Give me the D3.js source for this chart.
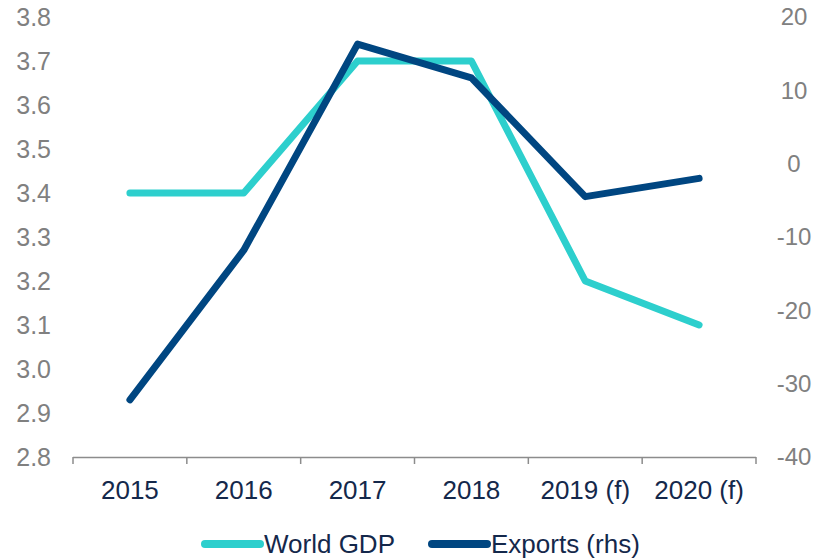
<!DOCTYPE html>
<html>
<head>
<meta charset="utf-8">
<script src="https://cdn.jsdelivr.net/npm/d3@7"></script>
<style>
  html, body { margin: 0; padding: 0; background: #fff; }
  svg { display: block; font-family: "Liberation Sans", Arial, sans-serif; }
</style>
</head>
<body>
<svg id="chart" width="815" height="558"></svg>
<script>
const categories = ["2015", "2016", "2017", "2018", "2019 (f)", "2020 (f)"];
const worldGDP = [3.4, 3.4, 3.7, 3.7, 3.2, 3.1];
const exportsRhs = [-32.2, -11.8, 16.3, 11.7, -4.5, -2.0];
const leftTicks = [2.8, 2.9, 3.0, 3.1, 3.2, 3.3, 3.4, 3.5, 3.6, 3.7, 3.8];
const rightTicks = [-40, -30, -20, -10, 0, 10, 20];
const seriesNames = ["World GDP", "Exports (rhs)"];

const colors = { gdp: "#2dcfcd", exp: "#004681", axisText: "#808080", catText: "#14284b", axis: "#8c8c8c" };

const svg = d3.select("#chart");
const plot = { left: 73, right: 756, top: 17, bottom: 457 };

const x = d3.scaleBand().domain(categories).range([plot.left, plot.right]).paddingInner(0).paddingOuter(0);
const cx = c => x(c) + x.bandwidth() / 2;
const yL = d3.scaleLinear().domain([2.8, 3.8]).range([plot.bottom, plot.top]);
const yR = d3.scaleLinear().domain([-40, 20]).range([plot.bottom, plot.top]);

// Left axis labels
const gL = svg.append("g").attr("transform", `translate(51,0)`)
  .call(d3.axisLeft(yL).tickValues(leftTicks).tickFormat(d3.format(".1f")).tickSize(0).tickPadding(0));
gL.select(".domain").remove();
gL.selectAll("text").attr("font-size", 25).attr("fill", colors.axisText)
  .attr("font-family", "Liberation Sans, Arial, sans-serif");

// Right axis labels (hyphen minus as in the reference)
const fmtR = d => String(d);
const gR = svg.append("g").attr("transform", `translate(794,0)`)
  .call(d3.axisRight(yR).tickValues(rightTicks).tickFormat(fmtR).tickSize(0).tickPadding(0));
gR.select(".domain").remove();
gR.selectAll("text").attr("font-size", 24).attr("fill", colors.axisText).attr("text-anchor", "middle")
  .attr("font-family", "Liberation Sans, Arial, sans-serif");

// Bottom axis
const gX = svg.append("g").attr("transform", `translate(0,${plot.bottom})`)
  .call(d3.axisBottom(x).tickSize(0).tickPadding(24));
gX.select(".domain").remove();
gX.selectAll("text").attr("font-size", 26).attr("fill", colors.catText)
  .attr("font-family", "Liberation Sans, Arial, sans-serif");

const edges = [x(categories[0])].concat(categories.map(c => x(c) + x.bandwidth()));
svg.append("line").attr("x1", plot.left).attr("x2", plot.right)
  .attr("y1", plot.bottom + 0.5).attr("y2", plot.bottom + 0.5)
  .attr("stroke", colors.axis).attr("stroke-width", 1.5);
svg.selectAll(".xtick").data(edges).enter().append("line")
  .attr("x1", d => d).attr("x2", d => d)
  .attr("y1", plot.bottom).attr("y2", plot.bottom + 7)
  .attr("stroke", colors.axis).attr("stroke-width", 1.5);

// Lines
const lineL = d3.line().x((d, i) => cx(categories[i])).y(d => yL(d));
const lineR = d3.line().x((d, i) => cx(categories[i])).y(d => yR(d));

svg.append("path").datum(worldGDP).attr("d", lineL)
  .attr("fill", "none").attr("stroke", colors.gdp).attr("stroke-width", 7)
  .attr("stroke-linecap", "round").attr("stroke-linejoin", "round");
svg.append("path").datum(exportsRhs).attr("d", lineR)
  .attr("fill", "none").attr("stroke", colors.exp).attr("stroke-width", 7)
  .attr("stroke-linecap", "round").attr("stroke-linejoin", "round");

// Legend
const legend = [
  { name: seriesNames[0], color: colors.gdp, x: 205 },
  { name: seriesNames[1], color: colors.exp, x: 432 }
];
const lg = svg.selectAll(".leg").data(legend).enter().append("g").attr("transform", d => `translate(${d.x},544)`);
lg.append("line").attr("x1", 0).attr("x2", 55).attr("y1", 0).attr("y2", 0)
  .attr("stroke", d => d.color).attr("stroke-width", 8).attr("stroke-linecap", "round");
lg.append("text").attr("x", 59).attr("y", 0).attr("dy", "0.35em")
  .attr("font-size", 26).attr("fill", colors.catText).text(d => d.name);
</script>
</body>
</html>
